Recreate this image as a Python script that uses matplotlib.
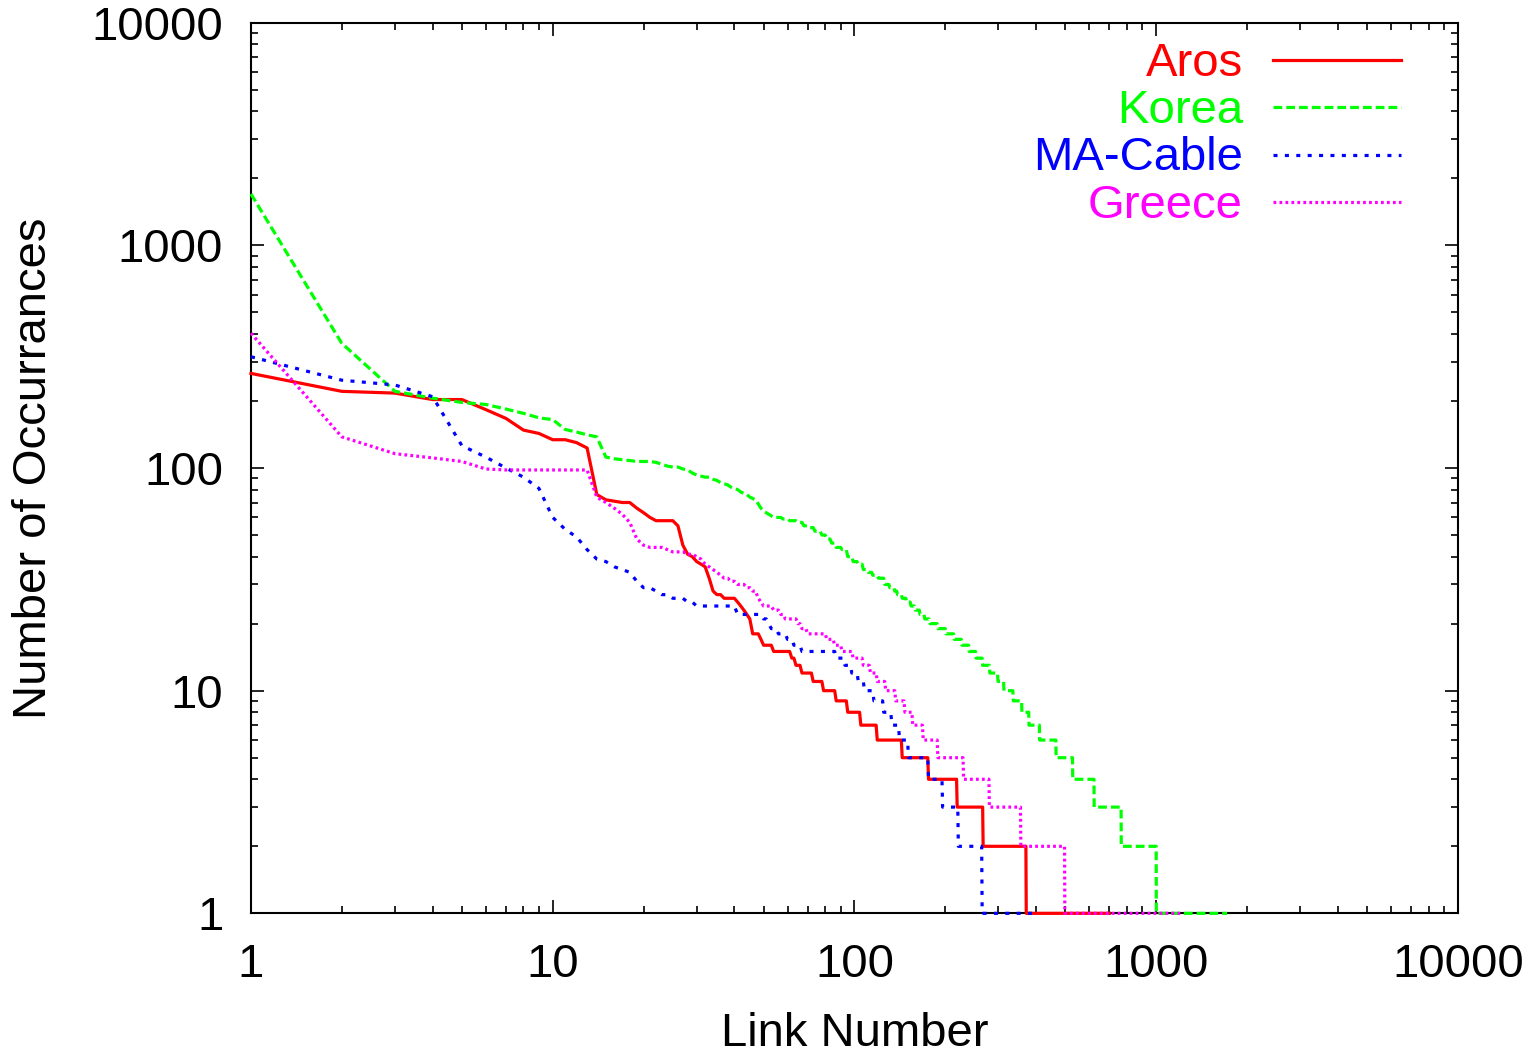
import numpy as np
import matplotlib.pyplot as plt
from matplotlib.lines import Line2D
from matplotlib.ticker import FuncFormatter, NullFormatter, LogLocator

plt.rcParams['font.family'] = ['Liberation Sans', 'DejaVu Sans']
plt.rcParams['lines.scale_dashes'] = False

# occurrence count per link, stored as distinct count values (descending)
# and how many links share each value; rank-ordering gives the curve
aros_counts = [266, 221, 217, 203, 183, 167, 148, 143, 134, 130, 123, 76, 72, 71, 70, 66, 63, 60, 58, 55,
               45, 41, 40, 38, 37, 36, 32, 28, 27, 26, 25, 24, 23, 22, 21, 18, 17, 16, 15, 14,
               13, 12, 11, 10, 9, 8, 7, 6, 5, 4, 3, 2, 1]
aros_links = [1, 1, 1, 2, 1, 1, 1, 1, 2, 1, 1, 1, 1, 1, 2, 1, 1, 1, 4, 1,
              1, 1, 1, 1, 1, 1, 1, 1, 2, 4, 1, 1, 1, 1, 1, 3, 1, 4, 8, 2,
              3, 6, 6, 8, 8, 10, 14, 25, 32, 43, 48, 104, 330]

korea_counts = [1701, 363, 221, 206, 197, 193, 184, 176, 168, 165, 149, 145, 141, 138, 112, 110, 109, 108, 107, 106,
                104, 102, 101, 99, 98, 95, 93, 92, 91, 89, 88, 86, 85, 84, 82, 81, 80, 78, 77, 76,
                74, 73, 72, 69, 66, 64, 63, 62, 61, 60, 59, 58, 57, 55, 54, 52, 50, 48, 46, 44,
                43, 40, 38, 37, 35, 34, 33, 32, 30, 29, 28, 27, 26, 25, 24, 23, 22, 21, 20, 19,
                18, 17, 16, 15, 14, 13, 12, 11, 10, 9, 8, 7, 6, 5, 4, 3, 2, 1]
korea_links = [1, 1, 1, 1, 1, 1, 1, 1, 1, 1, 1, 1, 1, 1, 1, 1, 1, 1, 3, 1,
               1, 1, 2, 1, 1, 1, 1, 1, 2, 1, 1, 1, 1, 1, 1, 1, 1, 1, 1, 1,
               1, 1, 1, 1, 1, 1, 1, 1, 1, 4, 3, 4, 3, 3, 3, 4, 3, 3, 3, 4,
               4, 4, 4, 4, 4, 4, 5, 6, 5, 5, 3, 5, 5, 5, 5, 6, 6, 7, 11, 12,
               13, 13, 13, 13, 13, 15, 18, 14, 23, 23, 20, 32, 55, 63, 94, 143, 235, 718]

macable_counts = [316, 248, 236, 209, 126, 112, 100, 91, 81, 60, 53, 49, 43, 39, 38, 36, 35, 34, 31, 29,
                  28, 27, 26, 25, 24, 22, 21, 20, 19, 18, 17, 16, 15, 14, 13, 12, 11, 10, 9, 8,
                  7, 6, 5, 4, 3, 2, 1]
macable_links = [1, 1, 1, 1, 1, 1, 1, 1, 1, 1, 1, 1, 1, 1, 1, 1, 1, 1, 1, 2,
                 1, 2, 3, 2, 11, 9, 2, 1, 3, 4, 3, 4, 20, 6, 5, 5, 5, 8, 9, 8,
                 8, 10, 25, 20, 25, 44, 140]

greece_counts = [403, 138, 116, 111, 107, 99, 98, 74, 70, 66, 62, 57, 48, 45, 44, 43, 42, 41, 40, 39,
                 37, 36, 35, 34, 33, 32, 31, 30, 29, 28, 26, 25, 24, 23, 22, 21, 20, 19, 18, 17,
                 16, 15, 14, 13, 12, 11, 10, 9, 8, 7, 6, 5, 4, 3, 2, 1]
greece_links = [1, 1, 1, 1, 1, 1, 7, 1, 1, 1, 1, 1, 1, 1, 3, 1, 3, 2, 1, 1,
                1, 1, 1, 1, 1, 2, 2, 3, 2, 2, 1, 1, 4, 3, 2, 6, 2, 3, 11, 5,
                5, 8, 8, 6, 6, 8, 10, 10, 9, 13, 20, 41, 50, 76, 142, 713]

series = [
    ("Aros", aros_counts, aros_links, "#ff0000", "-"),
    ("Korea", korea_counts, korea_links, "#00ff00", (0, (6.3, 2.9))),
    ("MA-Cable", macable_counts, macable_links, "#0000ff", (0, (2.9, 5.3))),
    ("Greece", greece_counts, greece_links, "#ff00ff", (0, (2.0, 2.3))),
]

fig = plt.figure(figsize=(15.22, 10.56), dpi=100)
ax = fig.add_axes([0.1649, 0.1351, 0.7930, 0.8434])

for i, (name, counts, links, color, style) in enumerate(series):
    y = np.repeat(counts, links)
    x = np.arange(1, len(y) + 1)
    # drawn above the frame so the count=1 runs show on the bottom axis
    ax.plot(x, y, color=color, linestyle=style, linewidth=2.3, zorder=3, clip_on=False)
    # legend entry: right-aligned label followed by a line sample
    ly = 0.958 - i * 0.0531
    ax.text(0.8219, ly - 0.004, name, color=color, fontsize=34, ha='right', va='center',
            transform=ax.transAxes)
    ax.add_line(Line2D([0.8467, 0.9528], [ly, ly], color=color, linestyle=style,
                       linewidth=2.3, transform=ax.transAxes))

ax.set_xscale('log')
ax.set_yscale('log')
ax.set_xlim(1, 10000)
ax.set_ylim(1, 10000)

fmt = FuncFormatter(lambda v, pos: f'{v:g}')
for axis in (ax.xaxis, ax.yaxis):
    axis.set_major_locator(LogLocator(base=10, numticks=10))
    axis.set_minor_locator(LogLocator(base=10, subs=np.arange(2, 10), numticks=50))
    axis.set_major_formatter(fmt)
    axis.set_minor_formatter(NullFormatter())

ax.tick_params(which='both', direction='in', top=True, right=True, width=1.2)
ax.tick_params(which='major', length=9.4, labelsize=34)
ax.tick_params(which='minor', length=5)
ax.tick_params(axis='x', pad=21)
ax.tick_params(axis='y', pad=20)
for sp in ax.spines.values():
    sp.set_linewidth(1.5)

ax.set_xlabel('Link Number', fontsize=34)
ax.set_ylabel('Number of Occurrances', fontsize=34)
ax.xaxis.set_label_coords(0.5, -0.1108)
ax.yaxis.set_label_coords(-0.1616, 0.5)

fig.savefig('out.png', dpi=100)
